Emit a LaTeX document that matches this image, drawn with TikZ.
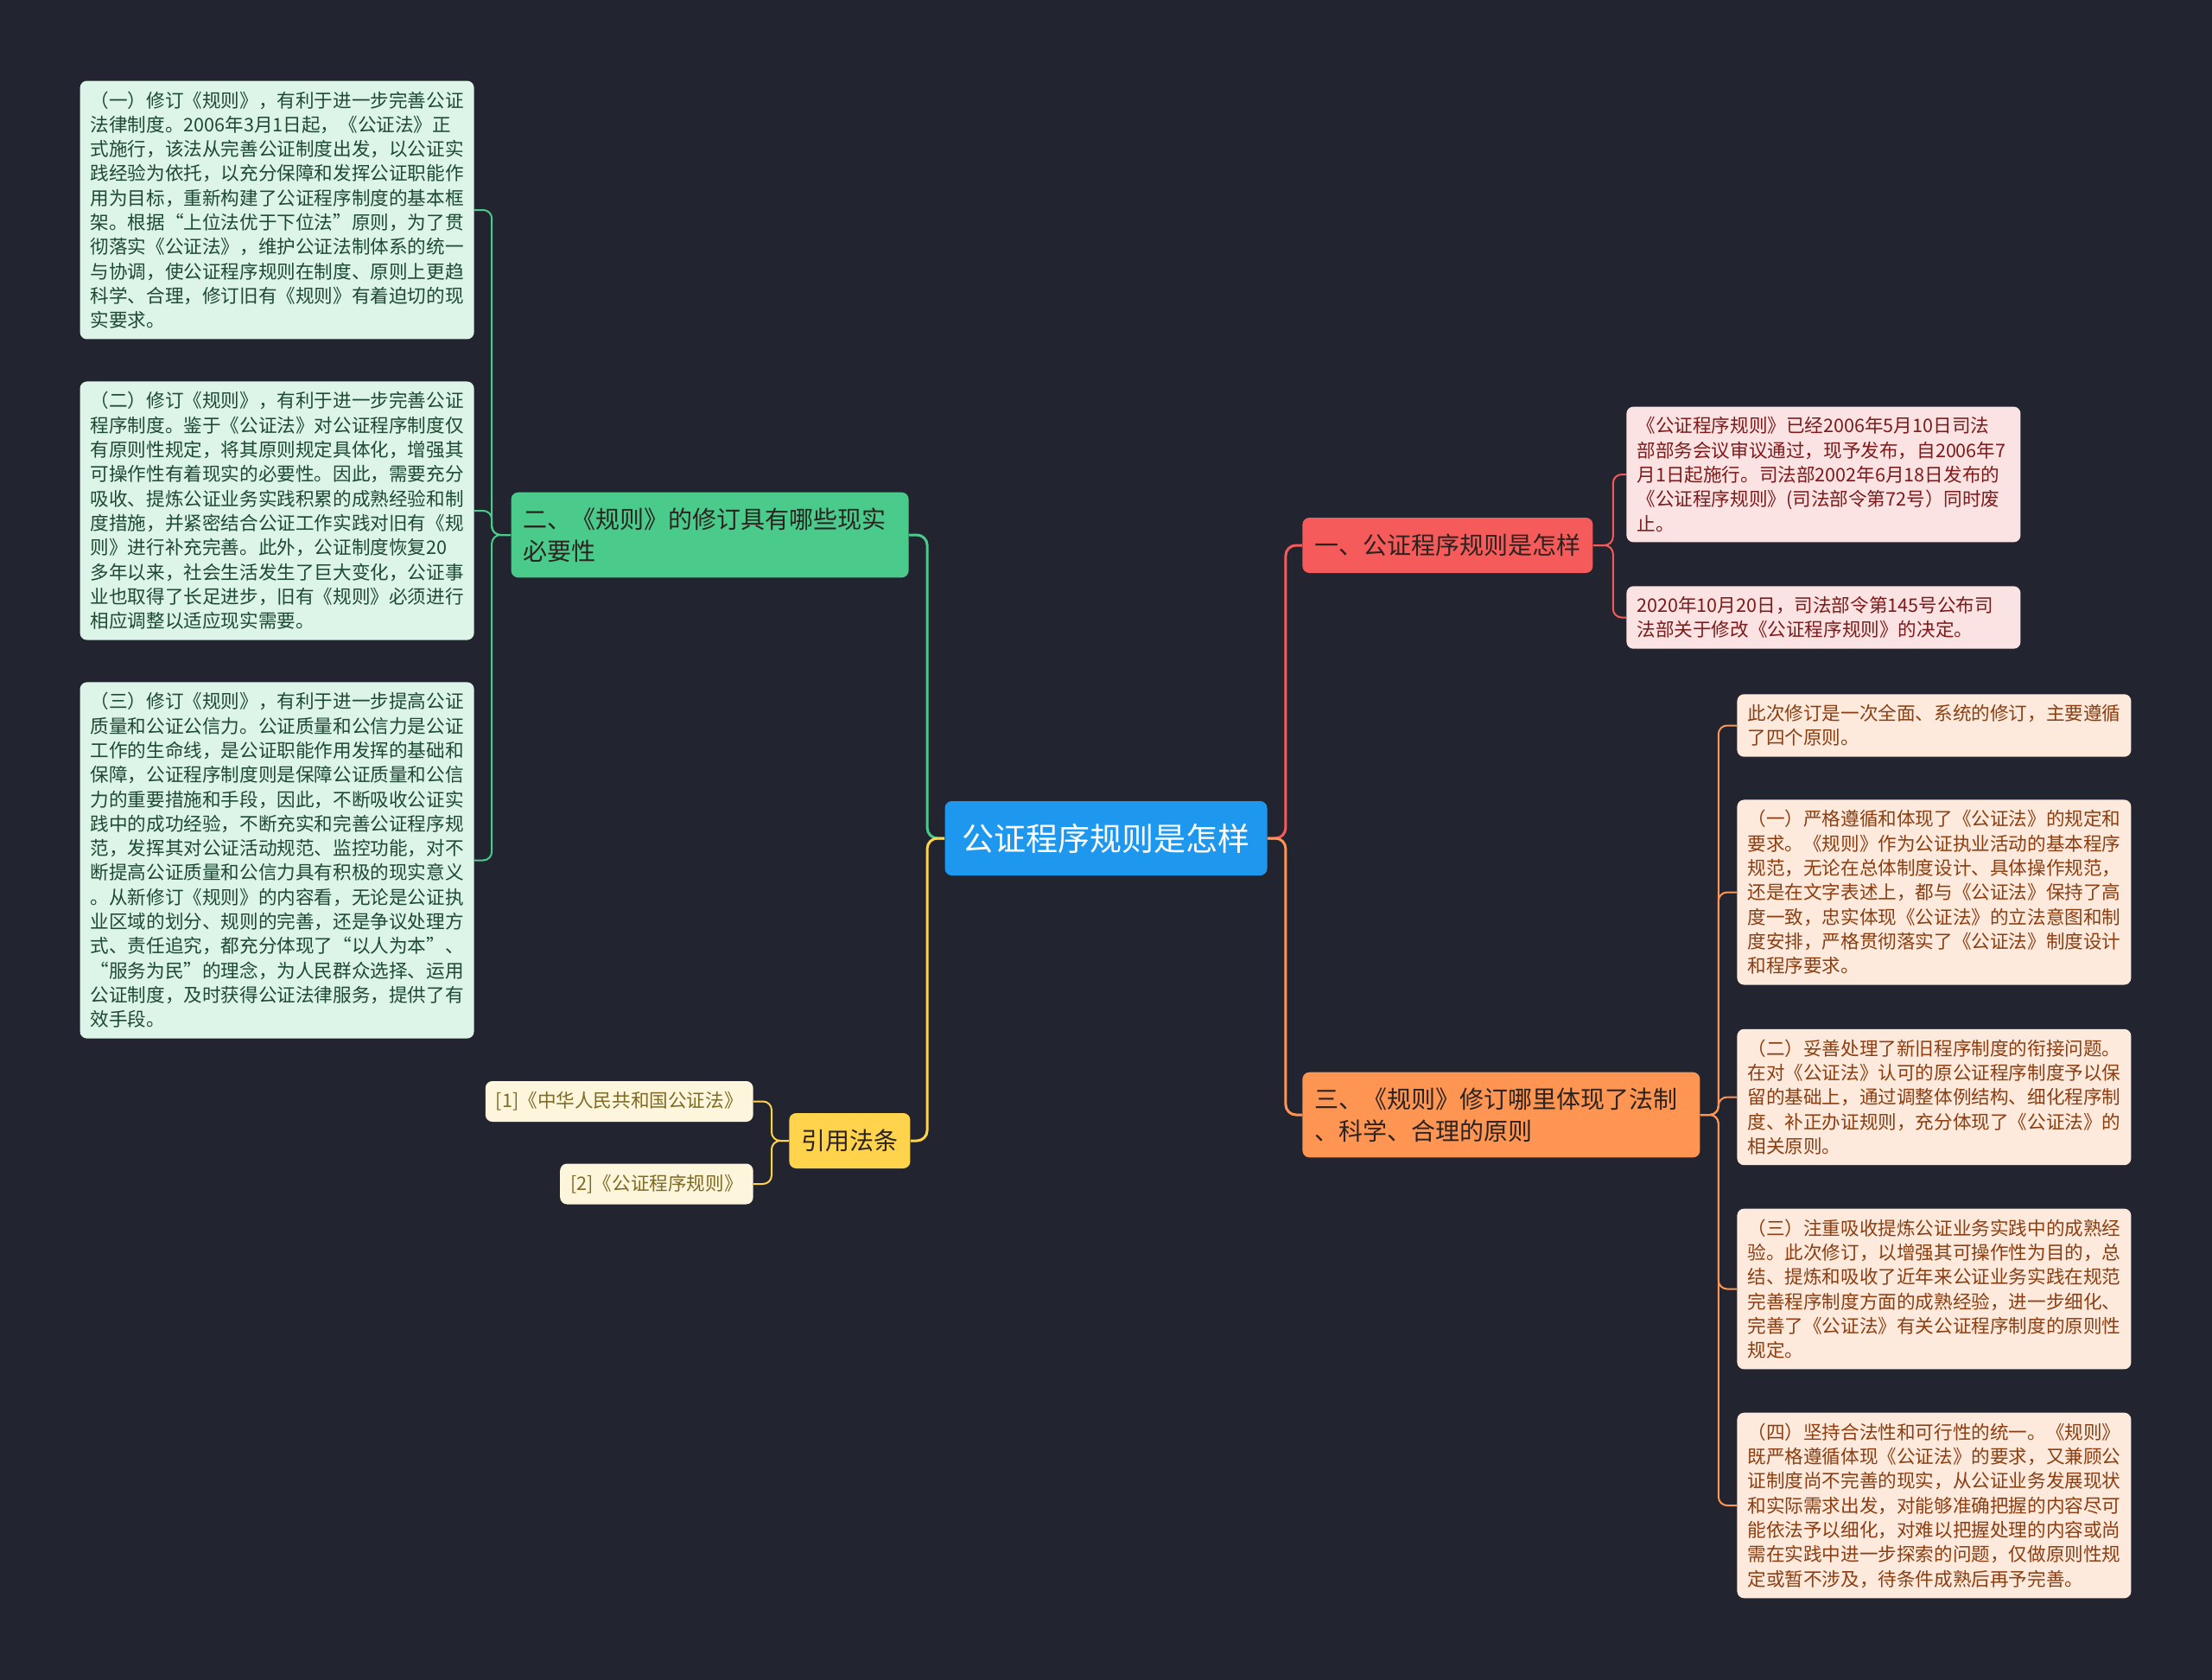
\documentclass[tikz,border=0pt]{standalone}
\usepackage{fontspec}
\newfontfamily\cjk{Noto Sans CJK SC}
\usetikzlibrary{positioning}

\definecolor{bgdark}{HTML}{22252F}
\definecolor{rootblue}{HTML}{1E98EE}
\definecolor{greenmain}{HTML}{4ACB8B}
\definecolor{greenpale}{HTML}{DDF4E8}
\definecolor{greenink}{HTML}{1E4A33}
\definecolor{redmain}{HTML}{F55B5B}
\definecolor{redpale}{HTML}{FCE3E3}
\definecolor{redink}{HTML}{7B1B1B}
\definecolor{orangemain}{HTML}{FF9552}
\definecolor{orangepale}{HTML}{FDEADC}
\definecolor{orangeink}{HTML}{8B3E12}
\definecolor{yellowmain}{HTML}{FFD44C}
\definecolor{yellowpale}{HTML}{FDF6DC}
\definecolor{yellowink}{HTML}{7D6A25}
\definecolor{topicink}{HTML}{2A2320}

\begin{document}
\begin{tikzpicture}[x=50pt, y=-50pt,
        rootnode/.style={rectangle, fill=rootblue, text=white, rounded corners=4pt, font=\cjk\fontsize{18.5}{22}\selectfont, minimum width=186.5pt, minimum height=43pt, inner sep=0pt},
        topic/.style={rectangle, rounded corners=4pt, text=topicink, font=\cjk\fontsize{14}{18.3}\selectfont, inner xsep=7pt, inner ysep=9pt, minimum height=32pt, align=left},
        leaf/.style={rectangle, rounded corners=4pt, font=\cjk\fontsize{10.8}{14.15}\selectfont, inner xsep=6pt, inner ysep=6pt, text width=216pt, align=left},
        cite/.style={rectangle, rounded corners=4pt, font=\cjk\fontsize{10.8}{14.15}\selectfont, inner xsep=6pt, inner ysep=6pt, minimum height=23.5pt, fill=yellowpale, text=yellowink},
        link/.style={line width=1.5pt, rounded corners=6pt},
        twig/.style={line width=1pt, rounded corners=5pt}
    ]
        \fill[bgdark] (0,0) rectangle (25.6,19.44);
        % Root
        \node[rootnode] (root) at (12.80, 9.70) {公证程序规则是怎样};
        % Topics
        \node[topic, fill=greenmain, anchor=east, text width=216pt] (sub2) at (10.52, 6.19) {二、《规则》的修订具有哪些现实\\必要性};
        \node[topic, fill=redmain, anchor=west] (sub1) at (15.07, 6.31) {一、公证程序规则是怎样};
        \node[topic, fill=orangemain, anchor=west, text width=216pt] (sub3) at (15.07, 12.90) {三、《规则》修订哪里体现了法制\\、科学、合理的原则};
        \node[topic, fill=yellowmain, anchor=west] (sub4) at (9.13, 13.20) {引用法条};
        % Leaves, left
        \node[leaf, fill=greenpale, text=greenink, anchor=east] (g1) at (5.49, 2.43) {
            （一）修订《规则》，有利于进一步完善公证\\
            法律制度。2006年3月1日起，《公证法》正\\
            式施行，该法从完善公证制度出发，以公证实\\
            践经验为依托，以充分保障和发挥公证职能作\\
            用为目标，重新构建了公证程序制度的基本框\\
            架。根据“上位法优于下位法”原则，为了贯\\
            彻落实《公证法》，维护公证法制体系的统一\\
            与协调，使公证程序规则在制度、原则上更趋\\
            科学、合理，修订旧有《规则》有着迫切的现\\
            实要求。
        };
        \node[leaf, fill=greenpale, text=greenink, anchor=east] (g2) at (5.49, 5.91) {
            （二）修订《规则》，有利于进一步完善公证\\
            程序制度。鉴于《公证法》对公证程序制度仅\\
            有原则性规定，将其原则规定具体化，增强其\\
            可操作性有着现实的必要性。因此，需要充分\\
            吸收、提炼公证业务实践积累的成熟经验和制\\
            度措施，并紧密结合公证工作实践对旧有《规\\
            则》进行补充完善。此外，公证制度恢复20\\
            多年以来，社会生活发生了巨大变化，公证事\\
            业也取得了长足进步，旧有《规则》必须进行\\
            相应调整以适应现实需要。
        };
        \node[leaf, fill=greenpale, text=greenink, anchor=east] (g3) at (5.49, 9.955) {
            （三）修订《规则》，有利于进一步提高公证\\
            质量和公证公信力。公证质量和公信力是公证\\
            工作的生命线，是公证职能作用发挥的基础和\\
            保障，公证程序制度则是保障公证质量和公信\\
            力的重要措施和手段，因此，不断吸收公证实\\
            践中的成功经验，不断充实和完善公证程序规\\
            范，发挥其对公证活动规范、监控功能，对不\\
            断提高公证质量和公信力具有积极的现实意义\\
            。从新修订《规则》的内容看，无论是公证执\\
            业区域的划分、规则的完善，还是争议处理方\\
            式、责任追究，都充分体现了“以人为本”、\\
            “服务为民”的理念，为人民群众选择、运用\\
            公证制度，及时获得公证法律服务，提供了有\\
            效手段。
        };
        \node[cite, anchor=east] (y1) at (8.72, 12.745) {[1]《中华人民共和国公证法》};
        \node[cite, anchor=east] (y2) at (8.72, 13.70) {[2]《公证程序规则》};
        % Leaves, right
        \node[leaf, fill=redpale, text=redink, anchor=west] (r1) at (18.82, 5.49) {
            《公证程序规则》已经2006年5月10日司法\\
            部部务会议审议通过，现予发布，自2006年7\\
            月1日起施行。司法部2002年6月18日发布的\\
            《公证程序规则》(司法部令第72号）同时废\\
            止。
        };
        \node[leaf, fill=redpale, text=redink, anchor=west] (r2) at (18.82, 7.145) {
            2020年10月20日，司法部令第145号公布司\\
            法部关于修改《公证程序规则》的决定。
        };
        \node[leaf, fill=orangepale, text=orangeink, anchor=west] (o1) at (20.10, 8.395) {
            此次修订是一次全面、系统的修订，主要遵循\\
            了四个原则。
        };
        \node[leaf, fill=orangepale, text=orangeink, anchor=west] (o2) at (20.10, 10.325) {
            （一）严格遵循和体现了《公证法》的规定和\\
            要求。《规则》作为公证执业活动的基本程序\\
            规范，无论在总体制度设计、具体操作规范，\\
            还是在文字表述上，都与《公证法》保持了高\\
            度一致，忠实体现《公证法》的立法意图和制\\
            度安排，严格贯彻落实了《公证法》制度设计\\
            和程序要求。
        };
        \node[leaf, fill=orangepale, text=orangeink, anchor=west] (o3) at (20.10, 12.695) {
            （二）妥善处理了新旧程序制度的衔接问题。\\
            在对《公证法》认可的原公证程序制度予以保\\
            留的基础上，通过调整体例结构、细化程序制\\
            度、补正办证规则，充分体现了《公证法》的\\
            相关原则。
        };
        \node[leaf, fill=orangepale, text=orangeink, anchor=west] (o4) at (20.10, 14.915) {
            （三）注重吸收提炼公证业务实践中的成熟经\\
            验。此次修订，以增强其可操作性为目的，总\\
            结、提炼和吸收了近年来公证业务实践在规范\\
            完善程序制度方面的成熟经验，进一步细化、\\
            完善了《公证法》有关公证程序制度的原则性\\
            规定。
        };
        \node[leaf, fill=orangepale, text=orangeink, anchor=west] (o5) at (20.10, 17.42) {
            （四）坚持合法性和可行性的统一。《规则》\\
            既严格遵循体现《公证法》的要求，又兼顾公\\
            证制度尚不完善的现实，从公证业务发展现状\\
            和实际需求出发，对能够准确把握的内容尽可\\
            能依法予以细化，对难以把握处理的内容或尚\\
            需在实践中进一步探索的问题，仅做原则性规\\
            定或暂不涉及，待条件成熟后再予完善。
        };
        % Links
        \draw[link, greenmain] (root.west) -- ++(-0.2,0) |- (sub2.east);
        \draw[link, yellowmain] (root.west) -- ++(-0.2,0) |- (sub4.east);
        \draw[link, redmain] (root.east) -- ++(0.21,0) |- (sub1.west);
        \draw[link, orangemain] (root.east) -- ++(0.21,0) |- (sub3.west);
        \foreach \n in {g1, g2, g3}
            \draw[twig, greenmain] (sub2.west) -- ++(-0.22,0) |- (\n.east);
        \foreach \n in {y1, y2}
            \draw[twig, yellowmain] (sub4.west) -- ++(-0.2,0) |- (\n.east);
        \foreach \n in {r1, r2}
            \draw[twig, redmain] (sub1.east) -- ++(0.23,0) |- (\n.west);
        \foreach \n in {o1, o2, o3, o4, o5}
            \draw[twig, orangemain] (sub3.east) -- ++(0.21,0) |- (\n.west);
    \end{tikzpicture}
\end{document}
